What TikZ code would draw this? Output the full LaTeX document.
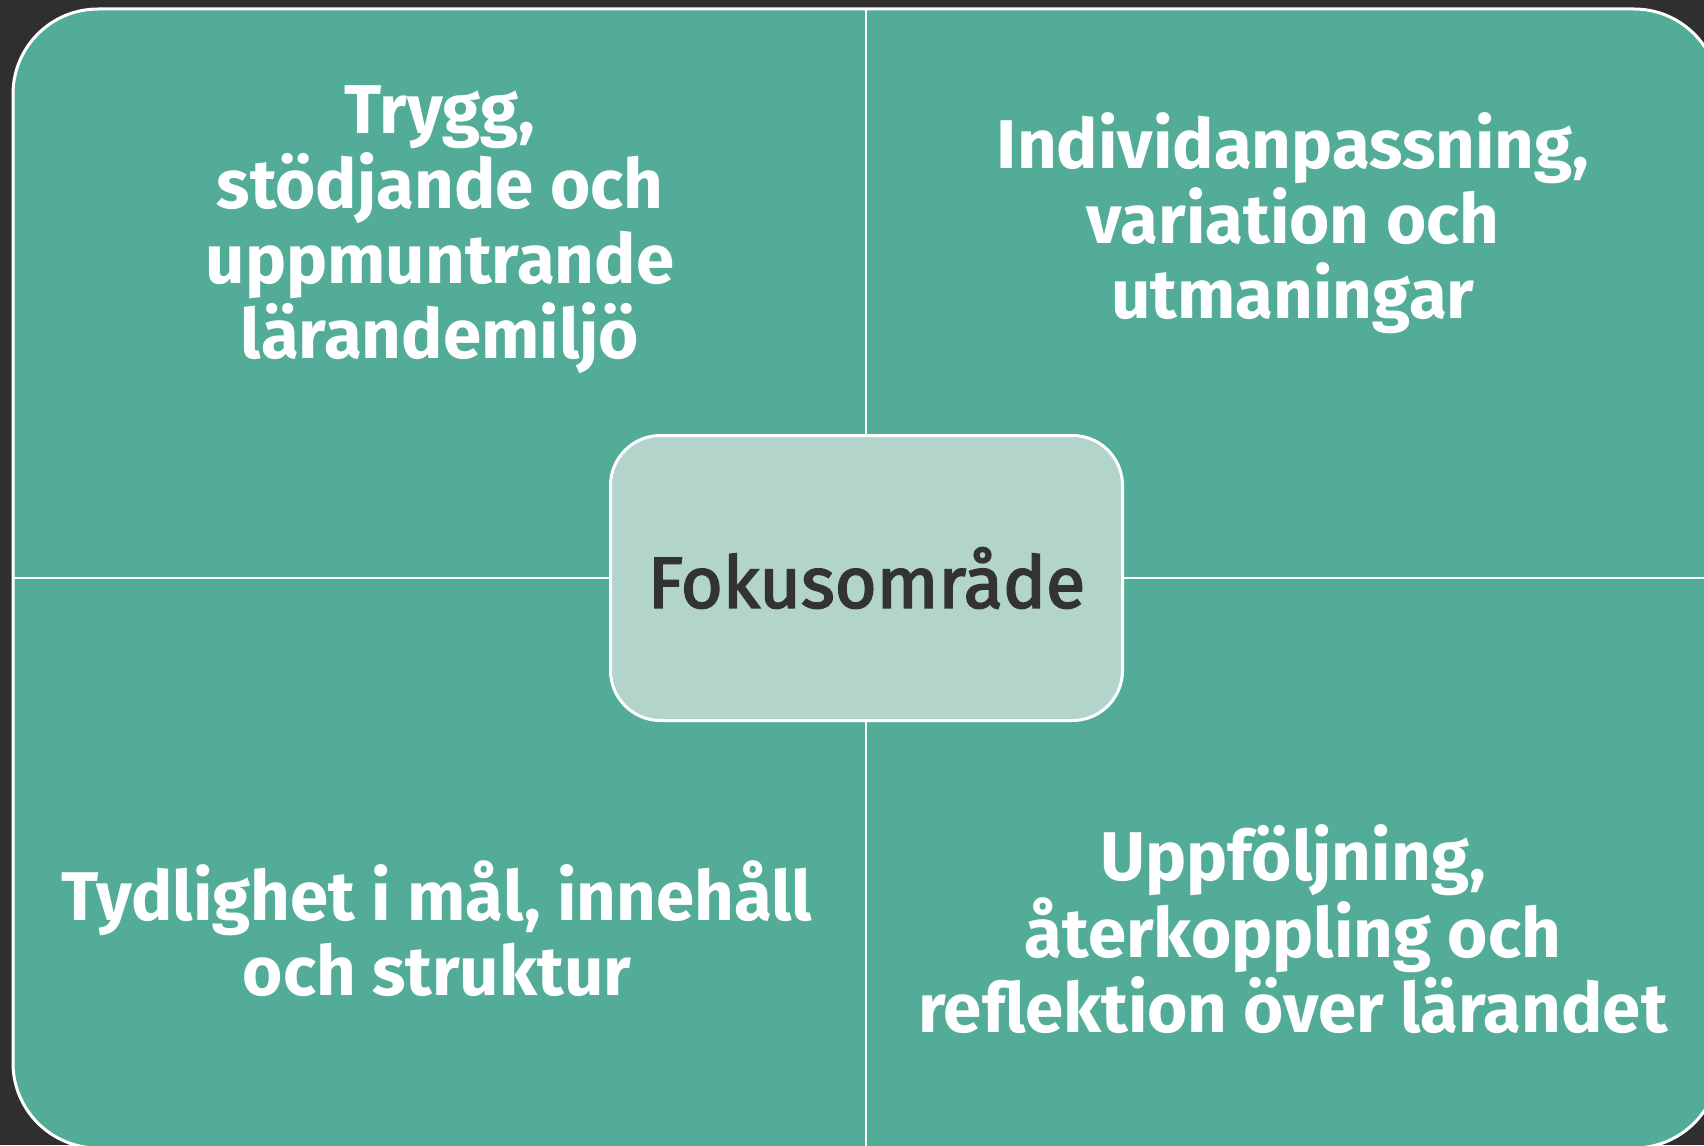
\documentclass[tikz,border=0pt]{standalone}
\usepackage{fontspec}
\setmainfont{Fira Sans}
\newfontfamily\focusfont[FakeBold=2.5]{Fira Sans}
\definecolor{bgdark}{HTML}{2F2F2F}
\definecolor{teal}{HTML}{53AC98}
\definecolor{paleteal}{HTML}{B3D4CB}
\definecolor{txtdark}{HTML}{333333}
\tikzset{
  quadtext/.style={text=white, align=center, anchor=base, inner sep=0pt,
    font=\fontsize{69}{75}\selectfont\bfseries},
  divider/.style={draw=white, line width=2.2pt},
}
\begin{document}
\begin{tikzpicture}[x=1pt,y=-1pt]
\fill[bgdark] (0,0) rectangle (1704,1145);
\useasboundingbox (0,0) rectangle (1704,1145);
\begin{scope}
\clip (0,0) rectangle (1704,1145);
\draw[fill=teal, draw=white, line width=3pt, rounded corners=85pt] (13,9) rectangle (1719,1148);
\coordinate (vt) at (866,9);
\coordinate (vb) at (866,1148);
\coordinate (hl) at (13,578);
\coordinate (hr) at (1719,578);
\draw[divider] (vt) -- (vb);
\draw[divider] (hl) -- (hr);
\end{scope}
\node[draw=white, line width=3pt, fill=paleteal, rounded corners=50pt,
  minimum width=512pt, minimum height=285pt, inner sep=0pt,
  text=txtdark, font=\fontsize{72}{78}\selectfont\focusfont] (focus) at (866.5,578) {Fokusområde};
\node[quadtext] (tl) at (440,358) {Trygg,\\stödjande och\\uppmuntrande\\lärandemiljö};
\node[quadtext] (tr) at (1293,318) {Individanpassning,\\variation och\\utmaningar};
\node[quadtext] (bl) at (437,995) {Tydlighet i mål, innehåll\\och struktur};
\node[quadtext] (br) at (1293,1032) {Uppföljning,\\återkoppling och\\reflektion över lärandet};
\end{tikzpicture}
\end{document}
